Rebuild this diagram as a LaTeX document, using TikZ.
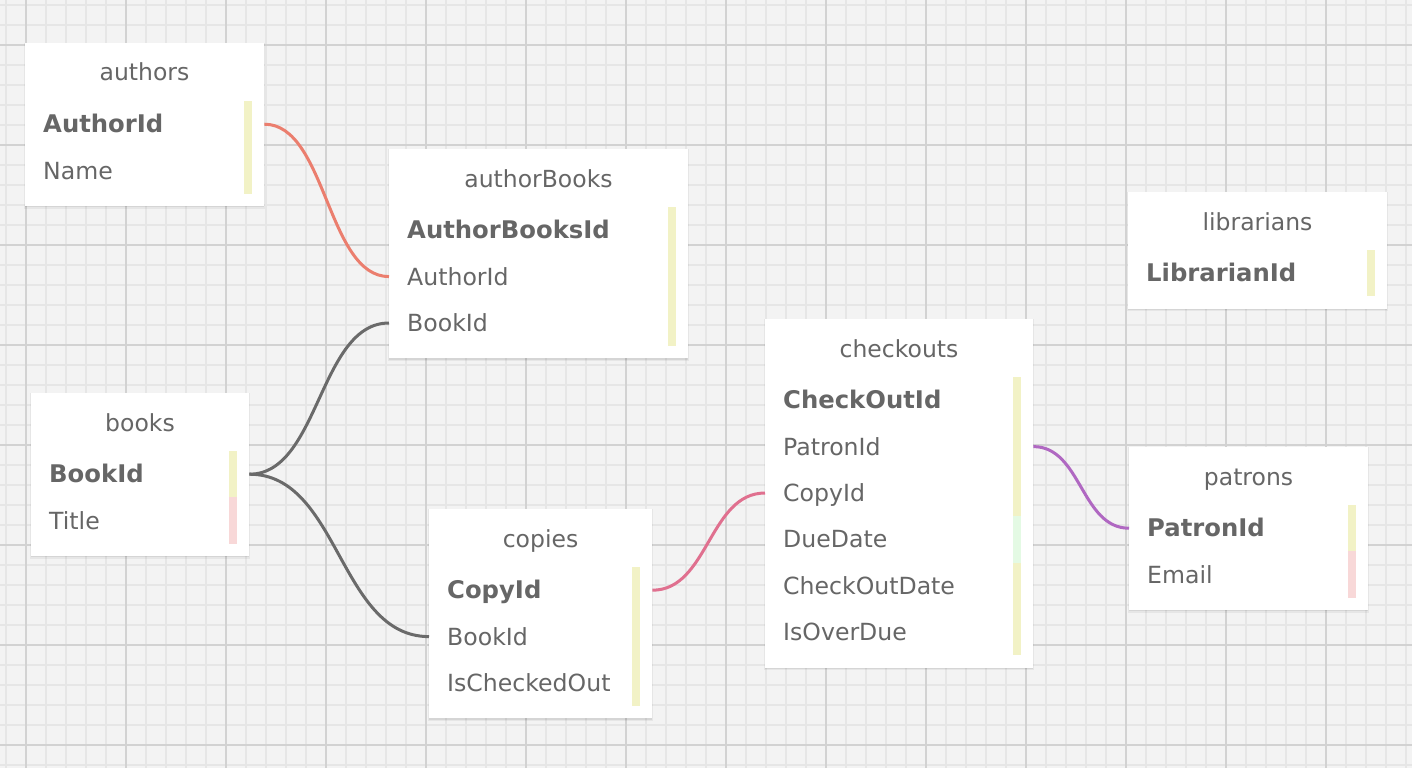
\documentclass[tikz,border=0pt]{standalone}
\usepackage{fontspec}
\setmainfont{DejaVu Sans}

\definecolor{canvas}{HTML}{F3F3F3}
\definecolor{gridminor}{HTML}{E6E6E6}
\definecolor{gridmajor}{HTML}{D2D2D2}
\definecolor{ink}{HTML}{666666}
\definecolor{baryel}{HTML}{F2F2C6}
\definecolor{barpink}{HTML}{F8D8D8}
\definecolor{bargreen}{HTML}{E4FAE4}
\definecolor{linksalmon}{HTML}{EB7E6E}
\definecolor{linkgray}{HTML}{6A6A6A}
\definecolor{linkpink}{HTML}{E0708F}
\definecolor{linkpurple}{HTML}{B068C2}

\tikzset{
  erbox/.style={draw=none, fill=white, anchor=north west, inner sep=0pt},
  ertitle/.style={anchor=base, text=ink, inner sep=0pt, font=\fontsize{23.5}{28}\selectfont},
  errow/.style={anchor=west, inner xsep=18pt, inner ysep=0pt, text=ink, align=left,
                text height=17pt, text depth=0pt},
  keyfield/.style={font=\fontsize{24.3}{28}\selectfont\bfseries},
  plainfield/.style={font=\fontsize{23.6}{28}\selectfont},
  link/.style={line width=3pt},
}

% \ertable{name}{left}{top}{width}{title}{row count}{label/bar colour/style,...}
\newcommand\ertable[7]{%
  \pgfmathsetmacro\erh{70+#6*46.4}%
  \pgfmathsetmacro\erw{#4-36}%
  \fill[black, opacity=.05] (#2-1, #3) rectangle (#2+#4+1, #3+\erh+3);
  \fill[black, opacity=.07] (#2, #3+1) rectangle (#2+#4, #3+\erh+1.5);
  \node[erbox, minimum width=#4pt, minimum height=\erh pt] (#1) at (#2,#3) {};
  \node[ertitle] (#1-title) at (#2+#4/2, #3+38) {#5};
  \foreach \lbl/\col/\kind [count=\i] in {#7} {
    \fill[\col] (#2+#4-20, #3+58+\i*46.4-46.4) rectangle (#2+#4-12, #3+58+\i*46.4);
    \node[errow, \kind, text width=\erw pt, minimum width=#4pt]
      (#1-\i) at (#2, #3+58+\i*46.4-23.2) {\lbl};
  }%
}

\begin{document}
\begin{tikzpicture}[x=1pt, y=-1pt]
  \useasboundingbox (0,0) rectangle (1412,768);

  % canvas and grid
  \fill[canvas] (0,0) rectangle (1412,768);
  \foreach \gx in {6,26,...,1406} \draw[gridminor, line width=1.5pt] (\gx,0) -- (\gx,768);
  \foreach \gy in {5,25,...,765} \draw[gridminor, line width=1.5pt] (0,\gy) -- (1412,\gy);
  \foreach \gx in {26,126,...,1326} \draw[gridmajor, line width=1.8pt] (\gx,0) -- (\gx,768);
  \foreach \gy in {45,145,...,745} \draw[gridmajor, line width=1.8pt] (0,\gy) -- (1412,\gy);

  % tables
  \ertable{authors}{25}{43}{239}{authors}{2}
    {AuthorId/baryel/keyfield, Name/baryel/plainfield}
  \ertable{authorBooks}{389}{149}{299}{authorBooks}{3}
    {AuthorBooksId/baryel/keyfield, AuthorId/baryel/plainfield, BookId/baryel/plainfield}
  \ertable{books}{31}{393}{218}{books}{2}
    {BookId/baryel/keyfield, Title/barpink/plainfield}
  \ertable{copies}{429}{509}{223}{copies}{3}
    {CopyId/baryel/keyfield, BookId/baryel/plainfield, IsCheckedOut/baryel/plainfield}
  \ertable{checkouts}{765}{319}{268}{checkouts}{6}
    {CheckOutId/baryel/keyfield, PatronId/baryel/plainfield, CopyId/baryel/plainfield,
     DueDate/bargreen/plainfield, CheckOutDate/baryel/plainfield, IsOverDue/baryel/plainfield}
  \ertable{librarians}{1128}{192}{259}{librarians}{1}
    {LibrarianId/baryel/keyfield}
  \ertable{patrons}{1129}{447}{239}{patrons}{2}
    {PatronId/baryel/keyfield, Email/barpink/plainfield}

  % relations
  \draw[link, linksalmon] (authors-1.east) .. controls +(62,0) and +(-62,0) .. (authorBooks-2.west);
  \draw[link, linkgray] (books-1.east) .. controls +(70,0) and +(-70,0) .. (authorBooks-3.west);
  \draw[link, linkgray] (books-1.east) .. controls +(90,0) and +(-90,0) .. (copies-2.west);
  \draw[link, linkpink] (copies-1.east) .. controls +(56,0) and +(-56,0) .. (checkouts-3.west);
  \draw[link, linkpurple] (checkouts-2.east) .. controls +(48,0) and +(-48,0) .. (patrons-1.west);
\end{tikzpicture}
\end{document}
